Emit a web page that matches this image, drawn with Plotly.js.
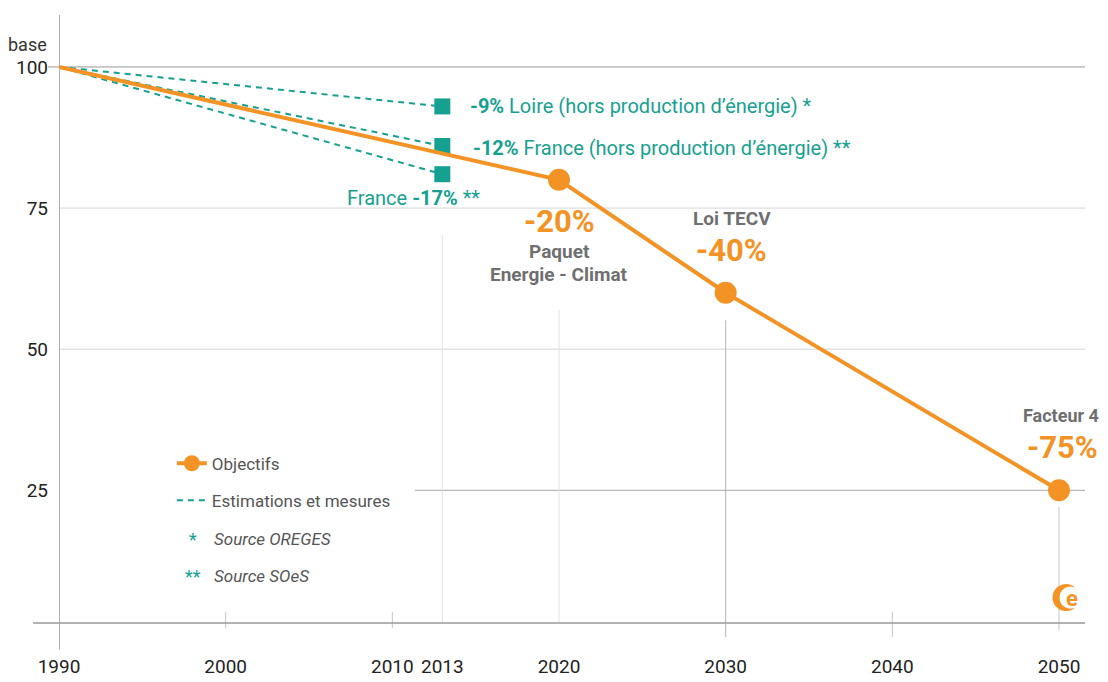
<!DOCTYPE html>
<html>
<head>
<meta charset="utf-8">
<script src="https://cdn.plot.ly/plotly-3.0.1.min.js"></script>
<style>
html,body{margin:0;padding:0;background:#fff;}
#chart{width:1108px;height:682px;}
</style>
</head>
<body>
<div id="chart"></div>
<script>
// ---- data ----
const objYears = [1990, 2020, 2030, 2050];
const objValues = [100, 80, 60, 25];
const objPct = ['', '-20%', '-40%', '-75%'];
const objLabels = ['', 'Paquet|Energie - Climat', 'Loi TECV', 'Facteur 4'];

const estimStartYear = 1990;
const estimStartValue = 100;
const estimYear = 2013;
const estimValues = [93, 86, 81];
const estimPct = ['-9%', '-12%', '-17%'];
const estimNames = ['Loire (hors production d’énergie) *', 'France (hors production d’énergie) **', 'France'];

const xTicks = [1990, 2000, 2010, 2013, 2020, 2030, 2040, 2050];
const yTicks = [25, 50, 75, 100];

// ---- style ----
const ORANGE = '#F39325';
const TEAL = '#16A090';
const GRAY = '#6f6f6f';
const FONT = "Roboto, 'Liberation Sans', sans-serif";

const traces = [];
estimValues.forEach((v, i) => {
  traces.push({
    x: [estimStartYear, estimYear], y: [estimStartValue, v],
    mode: 'lines', type: 'scatter',
    line: {color: TEAL, width: 2, dash: '6px,5px'},
    name: 'Estimations et mesures', legendgroup: 'b',
    showlegend: i === 0, hoverinfo: 'skip', legendrank: 2
  });
});
traces.push({
  x: estimValues.map(() => estimYear), y: estimValues,
  mode: 'markers', type: 'scatter',
  marker: {symbol: 'square', size: 16, color: TEAL, opacity: 1},
  showlegend: false, hoverinfo: 'skip'
});
traces.push({
  x: objYears, y: objValues, mode: 'lines+markers', type: 'scatter',
  line: {color: ORANGE, width: 4},
  marker: {color: ORANGE, opacity: 1, size: objYears.map((d, i) => i === 0 ? 0 : 22), line: {width: 0}},
  name: 'Objectifs', legendgroup: 'a', legendrank: 1, hoverinfo: 'skip'
});

const ann = [];
// estimation labels
ann.push({x: estimYear, y: estimValues[0], xref: 'x', yref: 'y', xanchor: 'left', yanchor: 'middle', xshift: 26,
  text: '<b>' + estimPct[0] + '</b> ' + estimNames[0], showarrow: false, font: {family: FONT, size: 20, color: TEAL}});
ann.push({x: estimYear, y: estimValues[1], xref: 'x', yref: 'y', xanchor: 'left', yanchor: 'middle', xshift: 29, yshift: -2,
  text: '<b>' + estimPct[1] + '</b> ' + estimNames[1], showarrow: false, font: {family: FONT, size: 20, color: TEAL}});
ann.push({x: estimYear, y: estimValues[2], xref: 'x', yref: 'y', xanchor: 'right', yanchor: 'middle', xshift: 40, yshift: -24,
  text: estimNames[2] + ' <b>' + estimPct[2] + '</b> **', showarrow: false, font: {family: FONT, size: 20, color: TEAL}});

// objective labels
ann.push({x: objYears[1], y: objValues[1], xanchor: 'center', yanchor: 'middle', yshift: -42,
  text: '<b>' + objPct[1] + '</b>', showarrow: false, font: {family: FONT, size: 31, color: ORANGE}});
objLabels[1].split('|').forEach((t, k) => {
  ann.push({x: objYears[1], y: objValues[1], xanchor: 'center', yanchor: 'middle', yshift: -72 - 23 * k,
    text: '<b>' + t + '</b>', showarrow: false, font: {family: FONT, size: 19, color: GRAY}});
});
ann.push({x: objYears[2], y: objValues[2], xanchor: 'center', yanchor: 'middle', yshift: 74, xshift: 6,
  text: '<b>' + objLabels[2] + '</b>', showarrow: false, font: {family: FONT, size: 19, color: GRAY}});
ann.push({x: objYears[2], y: objValues[2], xanchor: 'center', yanchor: 'middle', yshift: 42, xshift: 6,
  text: '<b>' + objPct[2] + '</b>', showarrow: false, font: {family: FONT, size: 31, color: ORANGE}});
ann.push({x: objYears[3], y: objValues[3], xanchor: 'center', yanchor: 'middle', yshift: 75, xshift: 2,
  text: '<b>' + objLabels[3] + '</b>', showarrow: false, font: {family: FONT, size: 18, color: GRAY}});
ann.push({x: objYears[3], y: objValues[3], xanchor: 'center', yanchor: 'middle', yshift: 43, xshift: 3,
  text: '<b>' + objPct[3] + '</b>', showarrow: false, font: {family: FONT, size: 31, color: ORANGE}});

// "base" label
ann.push({xref: 'paper', yref: 'paper', x: -0.031, y: 0.951, xanchor: 'center', yanchor: 'middle',
  text: 'base', showarrow: false, font: {family: FONT, size: 18, color: '#333'}});
// legend source rows
ann.push({xref: 'paper', yref: 'paper', x: 0.131, y: 0.138, xanchor: 'center', yanchor: 'middle',
  text: '*', showarrow: false, font: {family: FONT, size: 18, color: TEAL}});
ann.push({xref: 'paper', yref: 'paper', x: 0.131, y: 0.077, xanchor: 'center', yanchor: 'middle',
  text: '**', showarrow: false, font: {family: FONT, size: 18, color: TEAL}});
ann.push({xref: 'paper', yref: 'paper', x: 0.149, y: 0.138, xanchor: 'left', yanchor: 'middle',
  text: '<i>Source OREGES</i>', showarrow: false, font: {family: FONT, size: 17, color: '#555'}});
ann.push({xref: 'paper', yref: 'paper', x: 0.149, y: 0.077, xanchor: 'left', yanchor: 'middle',
  text: '<i>Source SOeS</i>', showarrow: false, font: {family: FONT, size: 17, color: '#555'}});
// logo letter
ann.push({x: 2050, y: 6, xanchor: 'center', yanchor: 'middle', xshift: 13, yshift: -1,
  text: '<b>e</b>', showarrow: false, font: {family: FONT, size: 22, color: ORANGE}});

// decorative lines
const YMIN = 1.5, YMAX = 109.2;
const shapes = [];
const hgrid = [[100, -0.0107, '#9a9a9a'], [75, 0, '#d4d4d4'], [50, 0, '#d4d4d4'], [25, 0.347, '#a8a8a8']];
hgrid.forEach(g => shapes.push({type: 'line', xref: 'paper', yref: 'y', x0: g[1], x1: 1, y0: g[0], y1: g[0],
  line: {color: g[2], width: 1}, layer: 'below'}));
const vlines = [[2013, 0.638, 0, '#e2e2e2'], [2020, 0.515, 0, '#e2e2e2'], [2030, 0.498, -0.023, '#b5b5b5'],
  [2040, 0.018, -0.023, '#c4c4c4'], [2000, 0.018, -0.008, '#c4c4c4'], [2010, 0.018, -0.008, '#c4c4c4'],
  [2050, 0.191, -0.0115, '#c4c4c4']];
vlines.forEach(v => shapes.push({type: 'line', xref: 'x', yref: 'paper', x0: v[0], x1: v[0], y0: v[2], y1: v[1],
  line: {color: v[3], width: 1}, layer: 'below'}));
shapes.push({type: 'line', xref: 'paper', yref: 'paper', x0: -0.0253, x1: 1, y0: 0, y1: 0, line: {color: '#999', width: 1.5}, layer: 'below'});
shapes.push({type: 'line', xref: 'x', yref: 'paper', x0: 1990, x1: 1990, y0: -0.044, y1: 1, line: {color: '#999', width: 1.5}, layer: 'below'});

// logo crescent (pixel-sized path anchored near the 2050 axis foot)
(function () {
  const cx = 7, R = 13.5, d = 4.5, r = 11;
  const a = (d * d + R * R - r * r) / (2 * d), h = Math.sqrt(R * R - a * a);
  const t1 = Math.atan2(h, a), t2 = Math.atan2(h, a - d);
  const pts = [];
  const N = 40;
  for (let i = 0; i <= N; i++) { const t = t1 + (2 * Math.PI - 2 * t1) * i / N; pts.push([cx + R * Math.cos(t), R * Math.sin(t)]); }
  for (let i = 0; i <= N; i++) { const t = (2 * Math.PI - t2) - (2 * Math.PI - 2 * t2) * i / N; pts.push([cx + d + r * Math.cos(t), r * Math.sin(t)]); }
  const path = 'M' + pts.map(p => p[0].toFixed(2) + ',' + p[1].toFixed(2)).join('L') + 'Z';
  shapes.push({type: 'path', xref: 'x', yref: 'y', xsizemode: 'pixel', ysizemode: 'pixel', xanchor: 2050, yanchor: 6,
    path: path, fillcolor: ORANGE, line: {width: 0}, layer: 'above'});
})();

const layout = {
  width: 1108, height: 682,
  margin: {l: 59, r: 23, t: 15, b: 59},
  paper_bgcolor: '#fff', plot_bgcolor: '#fff',
  font: {family: FONT, color: '#333'},
  showlegend: true,
  legend: {x: 0.110, y: 0.2916, xanchor: 'left', yanchor: 'top', traceorder: 'grouped', tracegroupgap: 12,
    font: {family: FONT, size: 17, color: '#555'}, bgcolor: 'rgba(0,0,0,0)', itemsizing: 'trace'},
  xaxis: {range: [1990, 2051.56], tickvals: xTicks, ticktext: xTicks.map(String), showgrid: false, zeroline: false,
    showline: false, ticks: '', ticklabelstandoff: 30, tickfont: {family: FONT, size: 19, color: '#222'}, fixedrange: true},
  yaxis: {range: [YMIN, YMAX], tickvals: yTicks, ticktext: yTicks.map(String), showgrid: false, zeroline: false,
    showline: false, ticks: '', ticklabelstandoff: 10, tickfont: {family: FONT, size: 19, color: '#222'}, fixedrange: true},
  annotations: ann,
  shapes: shapes
};
Plotly.newPlot('chart', traces, layout, {displayModeBar: false, staticPlot: true});
</script>
</body>
</html>
